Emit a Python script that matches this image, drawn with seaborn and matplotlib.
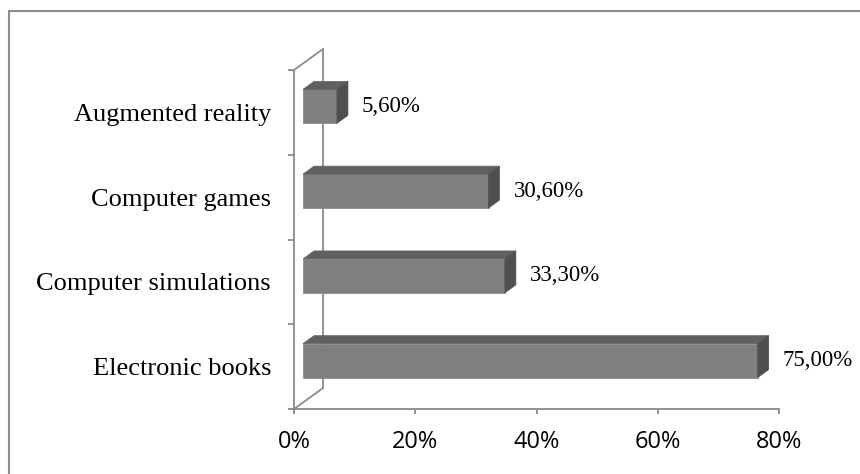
import matplotlib
matplotlib.use("Agg")
import matplotlib.pyplot as plt
import pandas as pd
import seaborn as sns
from matplotlib.patches import Polygon
from matplotlib.lines import Line2D
from matplotlib.transforms import IdentityTransform, ScaledTranslation

# Data
categories = ["Augmented reality", "Computer games", "Computer simulations", "Electronic books"]
shares = [0.056, 0.306, 0.333, 0.75]
value_labels = ["5,60%", "30,60%", "33,30%", "75,00%"]
x_ticks = [0.0, 0.2, 0.4, 0.6, 0.8]
x_tick_labels = ["0%", "20%", "40%", "60%", "80%"]

# Styling
W, H, DPI = 860, 474, 100
FRONT, TOP, SIDE = "#7f7f7f", "#606060", "#4f4f4f"
AXIS_GREY = "#8a8a8a"
BAR_SHIFT = (9, 6)      # bar front face relative to the front plane (px)
BAR_DEPTH = (11, 8)     # depth of each bar (px)
WALL_DEPTH = (29, 21)   # depth of the floor / side wall (px)

sns.set_theme(style="white")
fig = plt.figure(figsize=(W / DPI, H / DPI), dpi=DPI)
fig.patch.set_facecolor("white")
ax = fig.add_axes([294 / W, (H - 409) / H, 485 / W, 339 / H])

df = pd.DataFrame({"category": categories, "share": shares})
sns.barplot(data=df, x="share", y="category", orient="h", color=FRONT,
            saturation=1, width=0.4, edgecolor="#8c8c8c", linewidth=0.6,
            ax=ax, zorder=3)

ax.set_xlim(0, 0.8)
ax.set_ylim(len(categories) - 0.5, -0.5)
ax.set_xlabel("")
ax.set_ylabel("")
ax.set_facecolor("none")

# Axis lines and ticks
for side in ("top", "right"):
    ax.spines[side].set_visible(False)
for side in ("left", "bottom"):
    ax.spines[side].set_color(AXIS_GREY)
    ax.spines[side].set_linewidth(1.3)

ax.set_xticks(x_ticks)
ax.set_xticklabels(x_tick_labels, fontfamily="Open Sans", fontsize=17, color="black")
# category boundaries carry the tick marks, category centres carry the names
ax.set_yticks([i - 0.5 for i in range(len(categories) + 1)])
ax.set_yticklabels([])
ax.set_yticks(range(len(categories)), minor=True)
ax.set_yticklabels(categories, minor=True, fontfamily="Liberation Serif",
                   fontsize=19, color="black")
ax.tick_params(axis="y", which="major", direction="out", length=4.3, width=1.3,
               color=AXIS_GREY, left=True)
ax.tick_params(axis="y", which="minor", length=0, pad=16.5, left=True)
ax.tick_params(axis="x", direction="out", length=3.6, width=1.3,
               color=AXIS_GREY, pad=11.5, bottom=True)

# Side wall edges behind the bars
bb = ax.bbox
x0, yb, yt = bb.x0, bb.y0, bb.y1
wdx, wdy = WALL_DEPTH
for xs, ys in [((x0 + wdx, x0 + wdx), (yb + wdy, yt + wdy)),
               ((x0, x0 + wdx), (yt, yt + wdy)),
               ((x0, x0 + wdx), (yb, yb + wdy))]:
    ax.add_artist(Line2D(xs, ys, transform=IdentityTransform(), color=AXIS_GREY,
                         linewidth=1.3, clip_on=False, zorder=1))

# Extrude the bars: shift front faces, add top and side faces, write values
shift = ScaledTranslation(BAR_SHIFT[0] / DPI, BAR_SHIFT[1] / DPI, fig.dpi_scale_trans)
ddx, ddy = BAR_DEPTH
bars = sorted(ax.patches, key=lambda p: p.get_y() + p.get_height() / 2)
for bar, label in zip(bars, value_labels):
    bx, by = bar.get_x(), bar.get_y()
    bw, bh = bar.get_width(), bar.get_height()
    pts = ax.transData.transform([(bx, by), (bx + bw, by + bh)])
    left = pts[:, 0].min() + BAR_SHIFT[0]
    right = pts[:, 0].max() + BAR_SHIFT[0]
    top = pts[:, 1].max() + BAR_SHIFT[1]
    bottom = pts[:, 1].min() + BAR_SHIFT[1]
    bar.set_transform(ax.transData + shift)
    bar.set_clip_on(False)

    top_face = Polygon([(left, top), (right, top), (right + ddx, top + ddy),
                        (left + ddx, top + ddy)], closed=True, facecolor=TOP,
                       edgecolor=TOP, linewidth=0.5, transform=IdentityTransform(),
                       clip_on=False, zorder=3)
    side_face = Polygon([(right, top), (right + ddx, top + ddy),
                         (right + ddx, bottom + ddy), (right, bottom)], closed=True,
                        facecolor=SIDE, edgecolor=SIDE, linewidth=0.5,
                        transform=IdentityTransform(), clip_on=False, zorder=3)
    ax.add_artist(top_face)
    ax.add_artist(side_face)

    ax.text(right + ddx + 14, (top + bottom) / 2, label, transform=IdentityTransform(),
            fontfamily="Liberation Serif", fontsize=16.5, color="black",
            ha="left", va="center", clip_on=False)

# Chart frame
for xs, ys in [((9, 9), (0, H - 11)), ((9, W), (H - 11, H - 11))]:
    fig.add_artist(Line2D(xs, ys, transform=IdentityTransform(), color="#8c8c8c",
                          linewidth=1.5))

fig.savefig("out.png", dpi=DPI, facecolor="white")
